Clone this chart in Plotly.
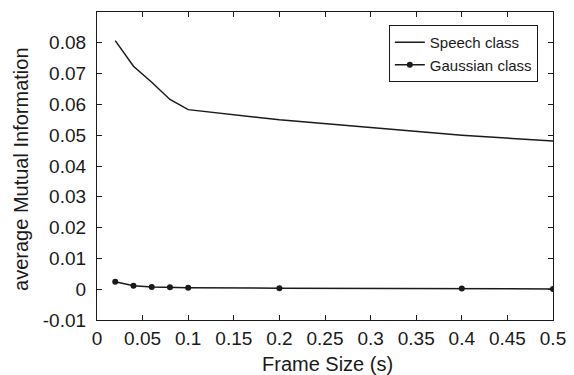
import plotly.graph_objects as go

frame_sizes = [0.02, 0.04, 0.06, 0.08, 0.1, 0.2, 0.4, 0.5]
speech_mi = [0.0807, 0.0724, 0.0672, 0.0616, 0.0583, 0.0550, 0.0500, 0.0481]
gauss_mi = [0.0024, 0.0011, 0.0007, 0.0006, 0.0005, 0.0003, 0.0002, 0.0001]

x_ticks = [0, 0.05, 0.1, 0.15, 0.2, 0.25, 0.3, 0.35, 0.4, 0.45, 0.5]
x_labels = ["0", "0.05", "0.1", "0.15", "0.2", "0.25", "0.3", "0.35", "0.4", "0.45", "0.5"]
y_ticks = [-0.01, 0, 0.01, 0.02, 0.03, 0.04, 0.05, 0.06, 0.07, 0.08]
y_labels = ["-0.01", "0", "0.01", "0.02", "0.03", "0.04", "0.05", "0.06", "0.07", "0.08"]
x_title = "Frame Size (s)"
y_title = "average Mutual Information"

FONT = "Liberation Sans, Arial, Helvetica"
INK = "#1a1a1a"

fig = go.Figure()
fig.add_trace(go.Scatter(x=frame_sizes, y=speech_mi, mode="lines", name="Speech class",
                         line=dict(color=INK, width=1.5)))
fig.add_trace(go.Scatter(x=frame_sizes, y=gauss_mi, mode="lines+markers", name="Gaussian class",
                         line=dict(color=INK, width=1.5), marker=dict(size=6, color=INK)))

axis_common = dict(showgrid=False, zeroline=False, showline=True, linecolor=INK, linewidth=1.3,
                   mirror="ticks", ticks="inside", ticklen=5, tickcolor=INK, automargin=False,
                   tickfont=dict(family=FONT, size=19, color=INK))
fig.update_xaxes(range=[0, 0.5], tickvals=x_ticks, ticktext=x_labels, ticklabelstandoff=1,
                 **axis_common)
fig.update_yaxes(range=[-0.01, 0.09], tickvals=y_ticks, ticktext=y_labels, ticklabelstandoff=6,
                 **axis_common)
fig.add_annotation(text=x_title, xref="paper", yref="paper", x=0.505, y=-0.186,
                   xanchor="center", yanchor="bottom", showarrow=False,
                   font=dict(family=FONT, size=20, color=INK))
fig.add_annotation(text=y_title, xref="paper", yref="paper", x=-0.167, y=0.49,
                   xanchor="center", yanchor="middle", showarrow=False, textangle=-90,
                   font=dict(family=FONT, size=20, color=INK))
fig.update_layout(width=566, height=367, margin=dict(l=89, r=21, t=4, b=55),
                  plot_bgcolor="white", paper_bgcolor="white",
                  legend=dict(x=0.640, y=0.958, xanchor="left", yanchor="top",
                              bgcolor="white", bordercolor=INK, borderwidth=1,
                              font=dict(family=FONT, size=15, color=INK),
                              tracegroupgap=0, itemwidth=30))
fig.write_html("out.html")
